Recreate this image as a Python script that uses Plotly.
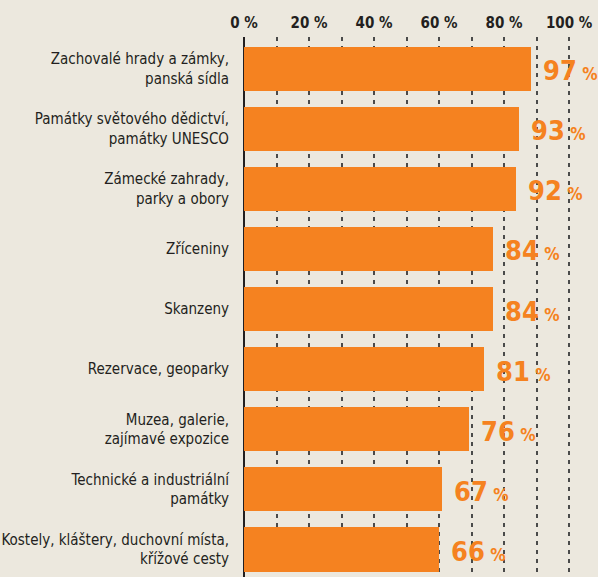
import plotly.graph_objects as go

categories = [
    "Zachovalé hrady a zámky,<br>panská sídla",
    "Památky světového dědictví,<br>památky UNESCO",
    "Zámecké zahrady,<br>parky a obory",
    "Zříceniny",
    "Skanzeny",
    "Rezervace, geoparky",
    "Muzea, galerie,<br>zajímavé expozice",
    "Technické a industriální<br>památky",
    "Kostely, kláštery, duchovní místa,<br>křížové cesty",
]
values = [97, 93, 92, 84, 84, 81, 76, 67, 66]
tick_values = [0, 20, 40, 60, 80, 100]
tick_labels = ["0 %", "20 %", "40 %", "60 %", "80 %", "100 %"]

ORANGE = "#F58220"
BG = "#ECE8DE"
DARK = "#231F20"
FONT = "DejaVu Sans Condensed, Liberation Sans Narrow, sans-serif"

fig = go.Figure()
fig.add_trace(go.Bar(
    y=categories, x=values, orientation="h",
    marker=dict(color=ORANGE, line=dict(width=0)),
    width=0.733, hoverinfo="skip", xaxis="x", yaxis="y",
))
# helper trace to carry the percentage tick axis
fig.add_trace(go.Scatter(x=[0, 100], y=[categories[0], categories[0]], mode="markers",
                         marker=dict(opacity=0), xaxis="x2", yaxis="y",
                         hoverinfo="skip", showlegend=False))

for c, v in zip(categories, values):
    fig.add_annotation(
        x=v, y=c, xref="x", yref="y", xanchor="left", yanchor="middle",
        xshift=10, yshift=-2, showarrow=False,
        text=f"<b>{v}</b><span style='font-size:17px'><b> %</b></span>",
        font=dict(family=FONT, size=27, color=ORANGE),
    )

fig.update_layout(
    width=598, height=577,
    margin=dict(l=244, r=0, t=37, b=0),
    paper_bgcolor=BG, plot_bgcolor=BG,
    showlegend=False, bargap=0,
    font=dict(family=FONT, color=DARK),
    xaxis=dict(range=[0, 119.6], showgrid=False, showticklabels=False,
               zeroline=True, zerolinecolor=DARK, zerolinewidth=2, fixedrange=True),
    xaxis2=dict(range=[0, 108.9], overlaying="x", side="top", anchor="y",
                tickvals=tick_values, ticktext=tick_labels,
                tickfont=dict(family=FONT, size=15, color=DARK, weight="bold"),
                showgrid=True, gridcolor="#4a4a4a", gridwidth=1.5, griddash="4px,5px",
                minor=dict(dtick=10, tick0=0, showgrid=True, gridcolor="#4a4a4a",
                           gridwidth=1.5, griddash="4px,5px"),
                zeroline=False, showline=False, ticks="", ticklabelstandoff=5),
    yaxis=dict(range=[8.458, -0.527], showgrid=False, zeroline=False,
               tickfont=dict(family=FONT, size=15, color=DARK),
               ticks="", ticklabelstandoff=14, automargin=False),
)
fig.update_xaxes(automargin=False)

fig.write_html("out.html")
